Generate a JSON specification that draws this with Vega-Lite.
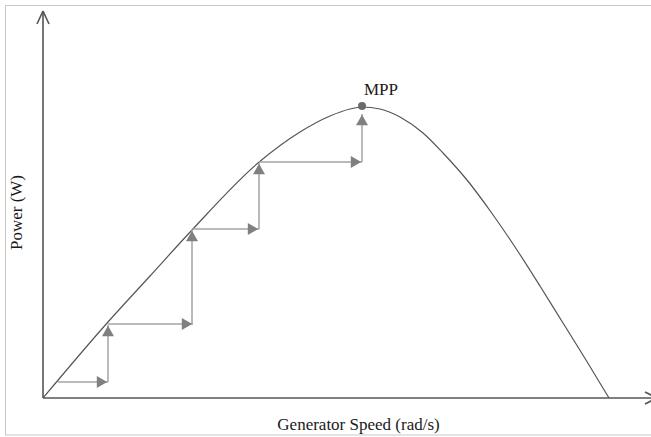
{
  "$schema": "https://vega.github.io/schema/vega-lite/v6.json",
  "width": 608,
  "height": 386,
  "autosize": {"type": "none"},
  "padding": {"left": 43, "top": 12, "right": 0, "bottom": 39},
  "background": "white",
  "config": {"view": {"stroke": null}},
  "datasets": {
    "frame": [
      {"x": -37.5, "y": 392.5, "x2": 615, "y2": 392.5},
      {"x": -37.5, "y": 392.5, "x2": -37.5, "y2": -37},
      {"x": -37.5, "y": -37, "x2": 615, "y2": -37}
    ],
    "axes": [
      {"x": 0, "y": 0, "x2": 0, "y2": 387},
      {"x": -6, "y": 374, "x2": 0, "y2": 387},
      {"x": 6, "y": 374, "x2": 0, "y2": 387},
      {"x": 0, "y": 0, "x2": 614, "y2": 0},
      {"x": 602, "y": 6, "x2": 614, "y2": 0},
      {"x": 602, "y": -6, "x2": 614, "y2": 0}
    ],
    "curve": [
      {"speed": 0, "power": 0},
      {"speed": 65, "power": 76},
      {"speed": 107, "power": 122},
      {"speed": 149, "power": 168},
      {"speed": 215, "power": 235},
      {"speed": 257, "power": 266},
      {"speed": 287, "power": 282},
      {"speed": 307, "power": 289},
      {"speed": 319, "power": 291},
      {"speed": 337, "power": 289},
      {"speed": 357, "power": 281},
      {"speed": 380, "power": 265},
      {"speed": 400, "power": 245},
      {"speed": 424, "power": 218},
      {"speed": 448, "power": 186},
      {"speed": 474, "power": 148},
      {"speed": 497, "power": 112},
      {"speed": 520, "power": 75},
      {"speed": 543, "power": 38},
      {"speed": 566, "power": 0}
    ],
    "steps": [
      {"x": 15, "y": 16, "x2": 65, "y2": 16},
      {"x": 65, "y": 16, "x2": 65, "y2": 73},
      {"x": 65, "y": 74, "x2": 150, "y2": 74},
      {"x": 149, "y": 74, "x2": 149, "y2": 168},
      {"x": 149, "y": 169, "x2": 216, "y2": 169},
      {"x": 216, "y": 169, "x2": 216, "y2": 235},
      {"x": 216, "y": 236, "x2": 319, "y2": 236},
      {"x": 319, "y": 236, "x2": 319, "y2": 284}
    ],
    "heads": [
      {"x": 59, "y": 16, "dir": "triangle-right"},
      {"x": 65, "y": 67, "dir": "triangle-up"},
      {"x": 144, "y": 74, "dir": "triangle-right"},
      {"x": 149, "y": 162, "dir": "triangle-up"},
      {"x": 210, "y": 169, "dir": "triangle-right"},
      {"x": 216, "y": 229, "dir": "triangle-up"},
      {"x": 313, "y": 236, "dir": "triangle-right"},
      {"x": 319, "y": 278, "dir": "triangle-up"}
    ],
    "mpp": [
      {"speed": 319, "power": 292, "label": "MPP"}
    ]
  },
  "layer": [
    {
      "data": {"name": "frame"},
      "mark": {"type": "rule", "color": "#c8c8c8", "strokeWidth": 1},
      "encoding": {
        "x": {"field": "x", "type": "quantitative", "scale": {"domain": [0, 608], "nice": false, "zero": false}, "axis": {"domain": false, "ticks": false, "labels": false, "grid": false, "title": "Generator Speed (rad/s)", "titleFont": "Liberation Serif", "titleFontSize": 17, "titleFontWeight": "normal", "titleColor": "#1a1a1a", "titleX": 315, "titleY": 26, "titleBaseline": "middle", "titleAlign": "center"}},
        "y": {"field": "y", "type": "quantitative", "scale": {"domain": [0, 386], "nice": false, "zero": false}, "axis": {"domain": false, "ticks": false, "labels": false, "grid": false, "title": "Power (W)", "titleFont": "Liberation Serif", "titleFontSize": 17, "titleFontWeight": "normal", "titleColor": "#1a1a1a", "titleX": -27, "titleY": 200, "titleBaseline": "middle", "titleAlign": "center", "titleAngle": -90}},
        "x2": {"field": "x2"},
        "y2": {"field": "y2"}
      }
    },
    {
      "data": {"name": "axes"},
      "mark": {"type": "rule", "color": "#555555", "strokeWidth": 1.6},
      "encoding": {
        "x": {"field": "x", "type": "quantitative"},
        "y": {"field": "y", "type": "quantitative"},
        "x2": {"field": "x2"},
        "y2": {"field": "y2"}
      }
    },
    {
      "data": {"name": "curve"},
      "mark": {"type": "line", "color": "#555555", "strokeWidth": 1.2, "interpolate": "monotone"},
      "encoding": {
        "x": {"field": "speed", "type": "quantitative"},
        "y": {"field": "power", "type": "quantitative"}
      }
    },
    {
      "data": {"name": "steps"},
      "mark": {"type": "rule", "color": "#a3a3a3", "strokeWidth": 1.5},
      "encoding": {
        "x": {"field": "x", "type": "quantitative"},
        "y": {"field": "y", "type": "quantitative"},
        "x2": {"field": "x2"},
        "y2": {"field": "y2"}
      }
    },
    {
      "data": {"name": "heads"},
      "mark": {"type": "point", "filled": true, "color": "#808080", "opacity": 1, "size": 144},
      "encoding": {
        "x": {"field": "x", "type": "quantitative"},
        "y": {"field": "y", "type": "quantitative"},
        "shape": {"field": "dir", "type": "nominal", "scale": null}
      }
    },
    {
      "data": {"name": "mpp"},
      "mark": {"type": "point", "filled": true, "color": "#6b6b6b", "opacity": 1, "size": 64, "shape": "circle"},
      "encoding": {
        "x": {"field": "speed", "type": "quantitative"},
        "y": {"field": "power", "type": "quantitative"}
      }
    },
    {
      "data": {"name": "mpp"},
      "mark": {"type": "text", "font": "Liberation Serif", "fontSize": 17, "color": "#1a1a1a", "align": "left", "baseline": "alphabetic", "dx": 2, "dy": -11},
      "encoding": {
        "x": {"field": "speed", "type": "quantitative"},
        "y": {"field": "power", "type": "quantitative"},
        "text": {"field": "label"}
      }
    }
  ]
}
